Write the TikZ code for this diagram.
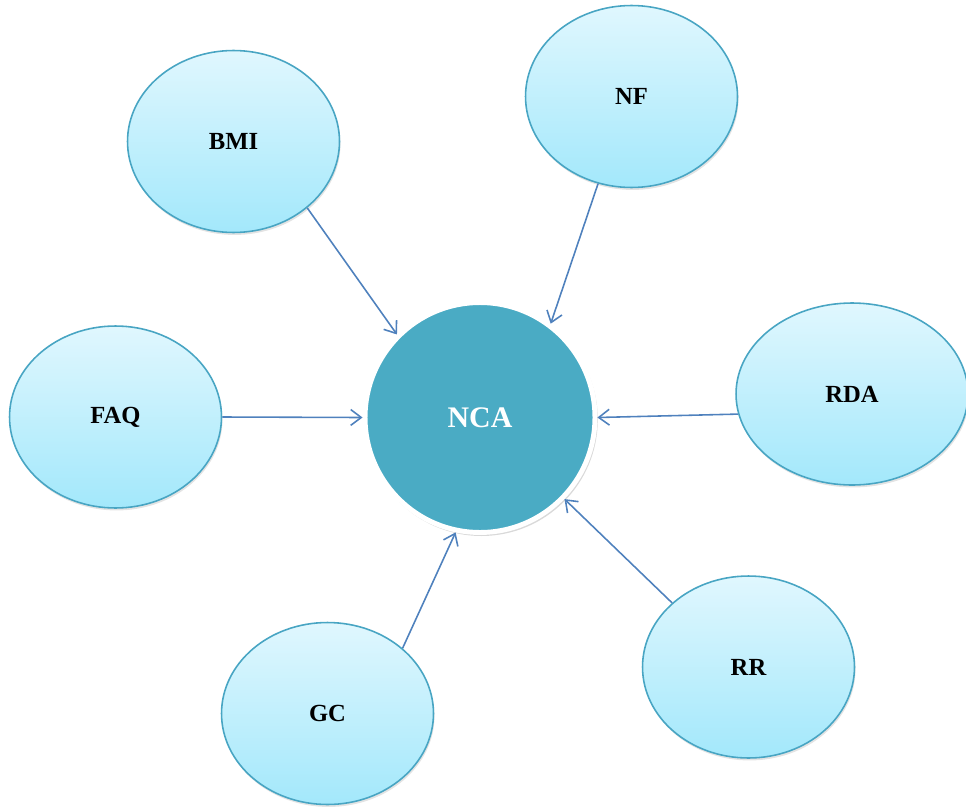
\documentclass[tikz,border=0pt]{standalone}
\usepackage{fontspec}
\setmainfont{Liberation Serif}
\usepackage{xcolor}
\usepackage{tikz}
\usetikzlibrary{shapes,arrows.meta,shadows,positioning}
\tikzset{>={Straight Barb[length=6pt,width=9pt]}}

\definecolor{ncafill}{RGB}{74,171,196}
\definecolor{nodeline}{RGB}{72,165,195}
\definecolor{topfill}{RGB}{224,247,254}
\definecolor{botfill}{RGB}{163,232,251}
\definecolor{arrowblue}{RGB}{79,129,189}

\begin{document}
\begin{tikzpicture}[x=0.02cm, y=-0.02cm,
                    topic/.style={ellipse, draw=nodeline, line width=0.9pt,
                                  top color=topfill, bottom color=botfill,
                                  minimum width=4.24cm, minimum height=3.64cm, inner sep=0pt,
                                  font=\fontsize{14}{16}\selectfont\bfseries,
                                  drop shadow={opacity=0.22, shadow xshift=0.6pt, shadow yshift=-1.4pt}},
                    core/.style={circle, draw=white, line width=2.8pt, fill=ncafill,
                                 minimum size=4.6cm, inner sep=0pt, text=white,
                                 font=\fontsize{17}{20}\selectfont\bfseries,
                                 drop shadow={opacity=0.3, shadow scale=1.012, shadow xshift=0.8pt, shadow yshift=-1.2pt}},
                    link/.style={->, draw=arrowblue, line width=0.9pt},
                   ]

\useasboundingbox (0,0) rectangle (966,808);

% centre
\node[core] (nca) at (480,417.5) {NCA};

% surrounding topics
\node[topic] (bmi) at (233.5,141.5) {BMI};
\node[topic] (nf)  at (631.5,96.5)  {NF};
\node[topic] (faq) at (115.5,417)   {FAQ};
\node[topic, minimum width=4.64cm] (rda) at (852,394) {RDA};
\node[topic] (gc)  at (327.5,713.5) {GC};
\node[topic] (rr)  at (748.5,667)   {RR};

% links into the centre
\draw[link] (bmi.-42)   -- (nca.135);
\draw[link] (nf.-111)   -- (nca.53.5);
\draw[link] (faq.0)     -- (nca.180);
\draw[link] (rda.190.5) -- (nca.0);
\draw[link] (gc.41)     -- (nca.-102);
\draw[link] (rr.140)    -- (nca.-44.5);

\end{tikzpicture}
\end{document}
